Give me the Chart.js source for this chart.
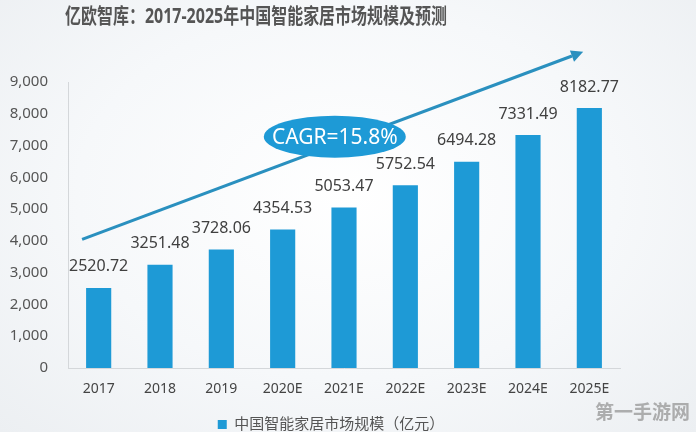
<!DOCTYPE html>
<html><head><meta charset="utf-8">
<script src="https://cdn.jsdelivr.net/npm/chart.js@4"></script>
<style>
html,body{margin:0;padding:0;}
body{width:696px;height:432px;background:radial-gradient(ellipse at 50% 45%,#ffffff 0%,#f6f8fa 55%,#eceff2 100%);overflow:hidden;}
#wrap{position:absolute;left:0;top:0;width:696px;height:432px;}
</style></head><body>
<div id="wrap"><canvas id="c" width="696" height="432"></canvas></div>
<script>
const titleText = '亿欧智库：2017-2025年中国智能家居市场规模及预测';
const categories = ['2017','2018','2019','2020E','2021E','2022E','2023E','2024E','2025E'];
const marketSize = [2520.72,3251.48,3728.06,4354.53,5053.47,5752.54,6494.28,7331.49,8182.77];
const seriesName = '中国智能家居市场规模（亿元）';
const cagrText = 'CAGR=15.8%';
const watermark = '第一手游网';
const yTicks = [0,1000,2000,3000,4000,5000,6000,7000,8000,9000];

const BLUE = '#1e9ad6';
const FONT = '"Noto Sans","Noto Sans CJK SC",sans-serif';

const decor = {
  id:'decor',
  afterLayout(chart){
    if (chart.legend) { chart.legend.left += 42; chart.legend.top += 10; chart.legend.bottom += 10; }
  },
  afterDatasetsDraw(chart){
    const ctx = chart.ctx, x = chart.scales.x, y = chart.scales.y;
    const meta = chart.getDatasetMeta(0);
    ctx.save();
    ctx.font = '16px ' + FONT;
    ctx.fillStyle = '#404040';
    ctx.textAlign = 'center'; ctx.textBaseline = 'middle';
    meta.data.forEach((b,i)=>{
      ctx.fillText(marketSize[i].toFixed(2), b.x, b.y - 21);
    });
    ctx.restore();
    const x0 = x.getPixelForValue(-0.27), y0 = y.getPixelForValue(4050);
    const x1 = x.getPixelForValue(7.9), y1 = y.getPixelForValue(9950);
    ctx.save();
    ctx.strokeStyle = '#2a90bf'; ctx.fillStyle = '#2a90bf'; ctx.lineWidth = 3;
    const ang = Math.atan2(y1-y0, x1-x0);
    const hx = x1 - 12*Math.cos(ang), hy = y1 - 12*Math.sin(ang);
    ctx.beginPath(); ctx.moveTo(x0,y0); ctx.lineTo(hx,hy); ctx.stroke();
    ctx.beginPath();
    ctx.moveTo(x1,y1);
    ctx.lineTo(hx + 6*Math.sin(ang), hy - 6*Math.cos(ang));
    ctx.lineTo(hx - 6*Math.sin(ang), hy + 6*Math.cos(ang));
    ctx.closePath(); ctx.fill();
    ctx.restore();
    const ex = x.getPixelForValue(3.85), ey = y.getPixelForValue(7280);
    ctx.save();
    ctx.fillStyle = BLUE;
    ctx.beginPath(); ctx.ellipse(ex, ey, 71, 21, 0, 0, Math.PI*2); ctx.fill();
    ctx.fillStyle = '#ffffff';
    ctx.font = '21px ' + FONT;
    ctx.textAlign = 'center'; ctx.textBaseline = 'middle';
    ctx.fillText(cagrText, ex, ey+1);
    ctx.restore();
    ctx.save();
    ctx.fillStyle = '#555555';
    ctx.font = 'bold 21px ' + FONT;
    ctx.textBaseline = 'middle'; ctx.textAlign = 'left';
    ctx.translate(65, 17);
    const w = ctx.measureText(titleText).width;
    ctx.scale(382 / w, 1);
    ctx.fillText(titleText, 0, 0);
    ctx.restore();
    ctx.save();
    ctx.fillStyle = 'rgba(150,150,150,0.75)';
    ctx.font = 'bold 19px ' + FONT;
    ctx.textAlign = 'right'; ctx.textBaseline = 'middle';
    ctx.fillText(watermark, 690, 414);
    ctx.restore();
  }
};

new Chart(document.getElementById('c'), {
  type:'bar',
  data:{ labels:categories, datasets:[{ label:seriesName, data:marketSize, backgroundColor:BLUE, borderWidth:0, categoryPercentage:1, barPercentage:0.41 }]},
  options:{
    responsive:false, animation:false, devicePixelRatio:1,
    layout:{ padding:{ top:82, right:76, left:0, bottom:0 } },
    plugins:{
      title:{display:false}, tooltip:{enabled:false},
      legend:{ display:true, position:'bottom', fullSize:true,
        labels:{ boxWidth:9, boxHeight:9, padding:4, color:'#555555', font:{ size:15, family:FONT } } }
    },
    scales:{
      x:{ grid:{ display:false, drawTicks:false }, border:{ display:true, color:'#d4d7da', width:1 },
          ticks:{ color:'#444444', padding:13, font:{ size:14, family:FONT } },
          afterFit(s){ s.height = 35; } },
      y:{ min:0, max:9000, grid:{ display:false, drawTicks:false }, border:{ display:true, color:'#d4d7da', width:1 },
          afterBuildTicks(s){ s.ticks = yTicks.map(v=>({value:v})); },
          ticks:{ color:'#555555', padding:20, font:{ size:15, family:FONT }, callback:v=>v.toLocaleString('en-US') },
          afterFit(s){ s.width = 68; } }
    }
  },
  plugins:[decor]
});
</script></body></html>
